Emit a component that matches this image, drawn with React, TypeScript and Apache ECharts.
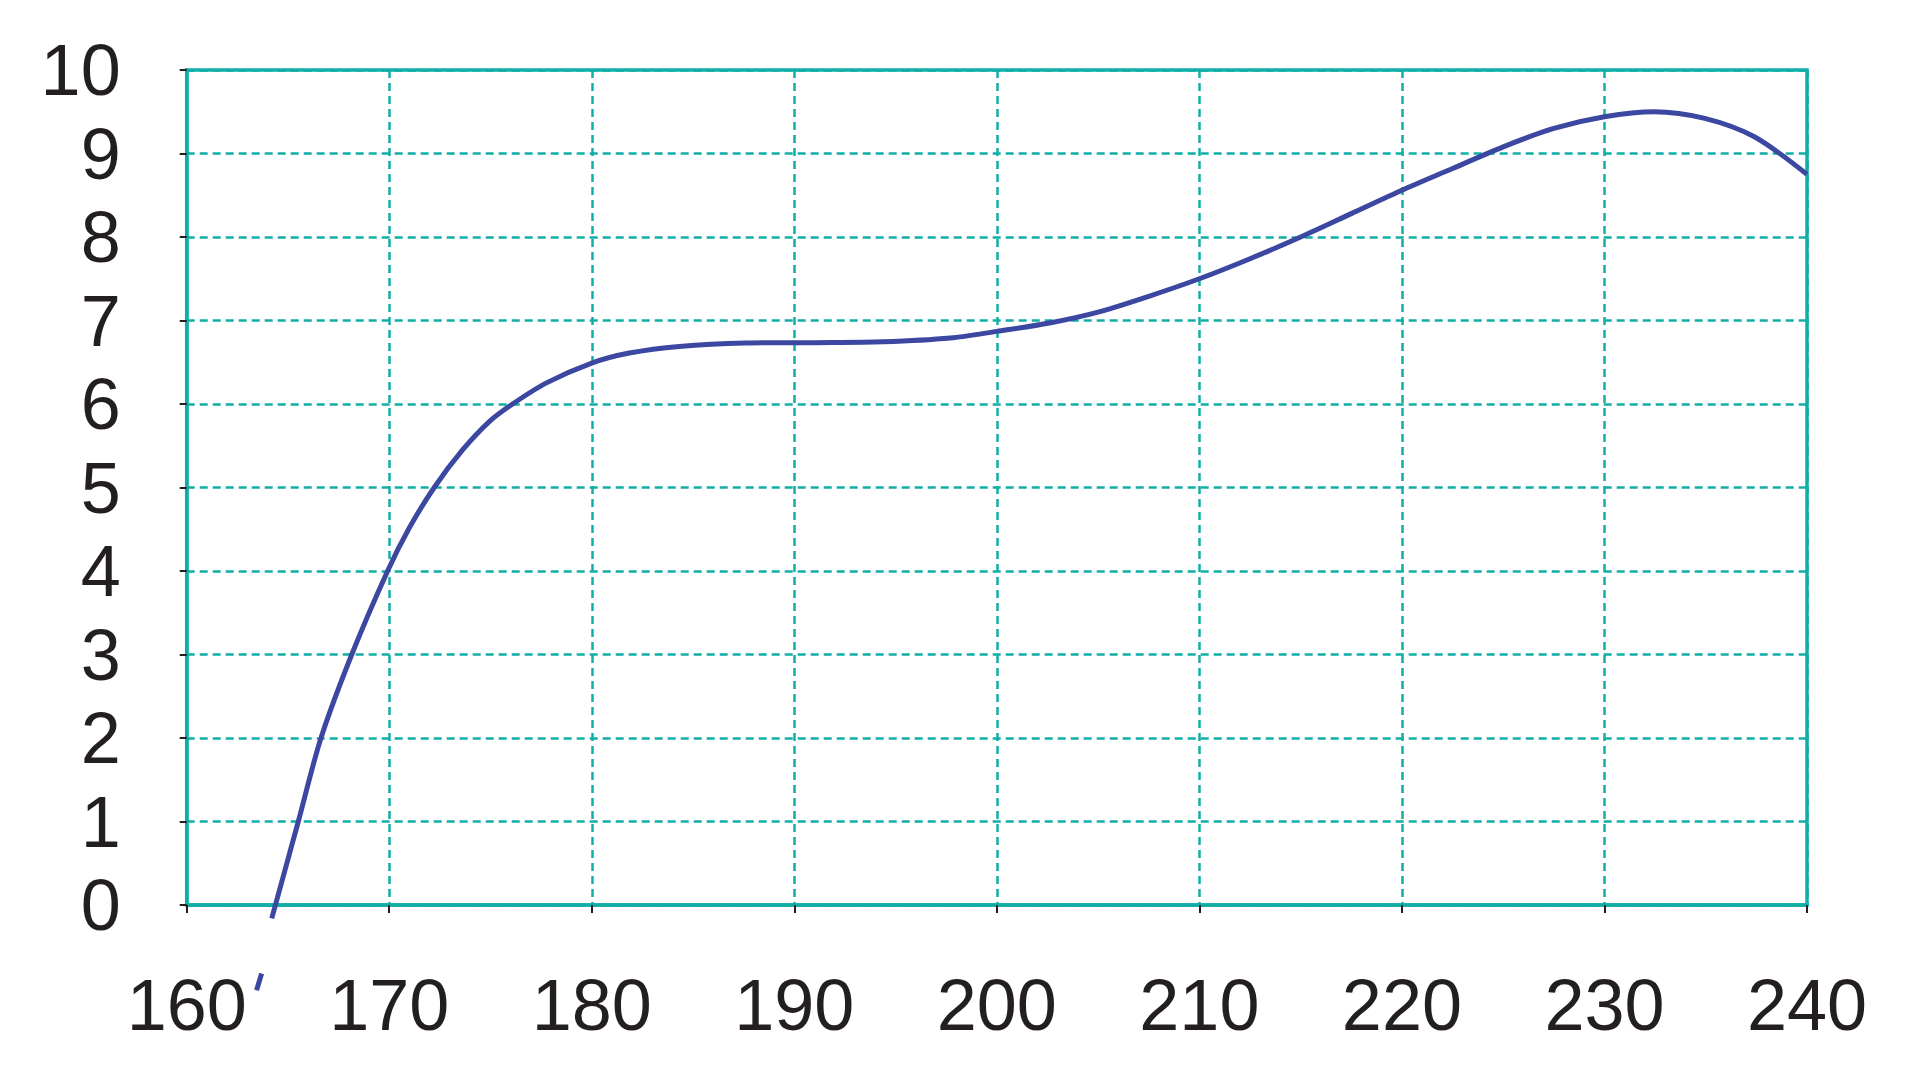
import React, { useEffect, useRef } from "react";
import * as echarts from "echarts";

const xTicks = [160, 170, 180, 190, 200, 210, 220, 230, 240];
const yTicks = [0, 1, 2, 3, 4, 5, 6, 7, 8, 9, 10];

const curveX = [
  164.2, 165.51, 166.63, 168.15, 169.92, 171.0, 172.22, 173.62, 174.94, 176.09,
  177.74, 180, 181.85, 184.32, 187.6, 191, 194.4, 197.7, 200, 202.6, 205, 207.5,
  210, 212.5, 215, 217.5, 220, 222.5, 225, 227.5, 230, 232.45, 234.95, 237.4,
  240,
];
const curveY = [
  -0.16, 1, 2, 3, 4, 4.52, 5, 5.45, 5.79, 6, 6.25, 6.49, 6.61, 6.69, 6.73,
  6.735, 6.745, 6.79, 6.87, 6.97, 7.1, 7.29, 7.5, 7.74, 8.0, 8.28, 8.56, 8.82,
  9.08, 9.3, 9.44, 9.5, 9.42, 9.2, 8.75,
];
const strayX = [163.7, 163.45];
const strayY = [-0.82, -1.02];

const TEAL = "#10aea6";
const LINE = "#3b47a0";
const TEXT = "#231f20";

export default function App() {
  const ref = useRef<HTMLDivElement>(null);
  useEffect(() => {
    if (!ref.current) return;
    const chart = echarts.init(ref.current, undefined, { renderer: "svg" });
    const pts = curveX.map((x, i) => [x, curveY[i]]);
    const stray = strayX.map((x, i) => [x, strayY[i]]);
    chart.setOption({
      animation: false,
      backgroundColor: "#ffffff",
      grid: {
        left: 186.7,
        right: 113,
        top: 70,
        bottom: 175,
        show: true,
        borderColor: TEAL,
        borderWidth: 3.5,
        backgroundColor: "transparent",
      },
      xAxis: {
        type: "value",
        min: xTicks[0],
        max: xTicks[xTicks.length - 1],
        interval: 10,
        axisLine: { show: true, onZero: false, lineStyle: { color: TEAL, width: 3.5 } },
        axisTick: { show: true, length: 8, lineStyle: { color: TEXT, width: 2 } },
        axisLabel: {
          margin: 64,
          fontSize: 72,
          fontFamily: "Liberation Sans, Arial, sans-serif",
          color: TEXT,
        },
        splitLine: {
          show: true,
          lineStyle: { color: TEAL, width: 2.5, type: [8, 5] },
        },
      },
      yAxis: {
        type: "value",
        min: yTicks[0],
        max: yTicks[yTicks.length - 1],
        interval: 1,
        axisLine: { show: true, lineStyle: { color: TEAL, width: 3.5 } },
        axisTick: { show: true, length: 7, lineStyle: { color: TEXT, width: 2 } },
        axisLabel: {
          margin: 66,
          fontSize: 72,
          fontFamily: "Liberation Sans, Arial, sans-serif",
          color: TEXT,
        },
        splitLine: {
          show: true,
          lineStyle: { color: TEAL, width: 2.5, type: [8, 5] },
        },
      },
      series: [
        {
          type: "line",
          data: pts,
          smooth: 0.3,
          showSymbol: false,
          clip: false,
          lineStyle: { color: LINE, width: 5 },
        },
        {
          type: "line",
          data: stray,
          showSymbol: false,
          clip: false,
          lineStyle: { color: LINE, width: 5 },
        },
      ],
    });
    return () => chart.dispose();
  }, []);
  return (
    <div
      ref={ref}
      style={{ position: "fixed", left: 0, top: 0, width: 1920, height: 1080 }}
    />
  );
}
